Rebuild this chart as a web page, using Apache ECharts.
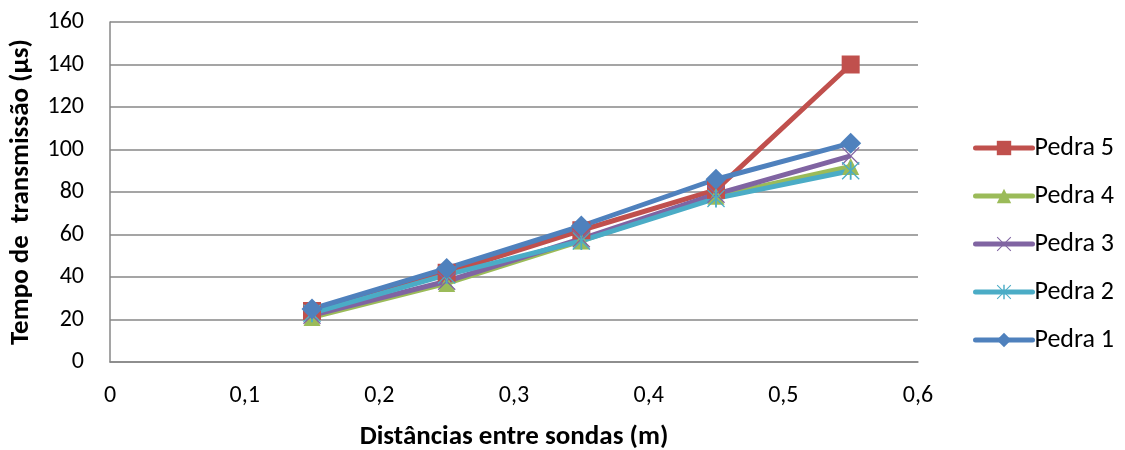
<!DOCTYPE html>
<html>
<head>
<meta charset="utf-8">
<script src="https://cdn.jsdelivr.net/npm/echarts@6/dist/echarts.min.js"></script>
<style>
  html, body { margin: 0; padding: 0; background: #fff; }
  #chart { width: 1125px; height: 450px; }
</style>
</head>
<body>
<div id="chart"></div>
<script>
  // distâncias entre sondas (m)
  const distances = [0.15, 0.25, 0.35, 0.45, 0.55]
  // tempo de transmissão (µs) por pedra
  const pedra5 = [24, 42, 62, 81, 140]
  const pedra4 = [21, 37, 57, 78, 92]
  const pedra3 = [22, 38, 58, 79, 97]
  const pedra2 = [23, 41, 57, 77, 90]
  const pedra1 = [25, 44, 64, 86, 103]
  const seriesNames = ['Pedra 5', 'Pedra 4', 'Pedra 3', 'Pedra 2', 'Pedra 1']
  const yTicks = [0, 20, 40, 60, 80, 100, 120, 140, 160]

  const FONT = 'Carlito, "Liberation Sans", Arial, sans-serif'
  const GRID_COLOR = '#878787'

  // marcadores tipo Excel
  const crossPath = 'path://M1,0L20,19L19,20L0,1ZM19,0L20,1L1,20L0,19Z'
  const starPath = 'path://M1,0L20,19L19,20L0,1ZM19,0L20,1L1,20L0,19ZM9,0L11,0L11,20L9,20Z'

  const styles = [
    { color: '#C0504D', symbol: 'rect', size: 18 },
    { color: '#9BBB59', symbol: 'triangle', size: 17 },
    { color: '#8064A2', symbol: crossPath, size: 18 },
    { color: '#4BACC6', symbol: starPath, size: 18 },
    { color: '#4F81BD', symbol: 'diamond', size: 21 }
  ]
  const values = [pedra5, pedra4, pedra3, pedra2, pedra1]

  const chart = echarts.init(document.getElementById('chart'), null, { renderer: 'canvas' })

  const option = {
    animation: false,
    backgroundColor: '#fff',
    grid: {
      left: 110,
      right: 207,
      top: 22,
      bottom: 88,
      containLabel: false,
      outerBoundsMode: 'none'
    },
    legend: {
      orient: 'vertical',
      left: 968,
      top: 130,
      itemWidth: 57,
      itemHeight: 18,
      itemGap: 22,
      data: seriesNames,
      lineStyle: { width: 5, cap: 'round' },
      textStyle: { fontFamily: FONT, fontSize: 26, color: '#000', padding: [0, 0, 0, -3] }
    },
    xAxis: {
      type: 'value',
      min: 0,
      max: 0.6,
      interval: 0.1,
      name: 'Distâncias entre sondas (m)',
      nameLocation: 'middle',
      nameGap: 62,
      nameTextStyle: { fontFamily: FONT, fontSize: 27, fontWeight: 'bold', color: '#000' },
      axisLine: { show: true, lineStyle: { color: GRID_COLOR, width: 1.5 } },
      axisTick: { show: false },
      splitLine: { show: false },
      axisLabel: {
        margin: 22,
        fontFamily: FONT,
        fontSize: 24,
        color: '#000',
        formatter: v => (v === 0 ? '0' : v.toFixed(1).replace('.', ','))
      }
    },
    yAxis: {
      type: 'value',
      min: yTicks[0],
      max: yTicks[yTicks.length - 1],
      interval: 20,
      name: 'Tempo de  transmissão (µs)',
      nameLocation: 'middle',
      nameGap: 75,
      nameTextStyle: { fontFamily: FONT, fontSize: 27, fontWeight: 'bold', color: '#000' },
      axisLine: { show: true, lineStyle: { color: GRID_COLOR, width: 1.5 } },
      axisTick: { show: false },
      splitLine: { show: true, lineStyle: { color: GRID_COLOR, width: 1.5 } },
      axisLabel: { margin: 26, fontFamily: FONT, fontSize: 24, color: '#000' }
    },
    series: seriesNames.map((name, i) => ({
      name,
      type: 'line',
      data: distances.map((d, j) => [d, values[i][j]]),
      symbol: styles[i].symbol,
      symbolSize: styles[i].size,
      symbolKeepAspect: true,
      showAllSymbol: true,
      lineStyle: { color: styles[i].color, width: 5 },
      itemStyle: { color: styles[i].color, opacity: 1 },
      emphasis: { disabled: true }
    }))
  }

  chart.setOption(option)
</script>
</body>
</html>
